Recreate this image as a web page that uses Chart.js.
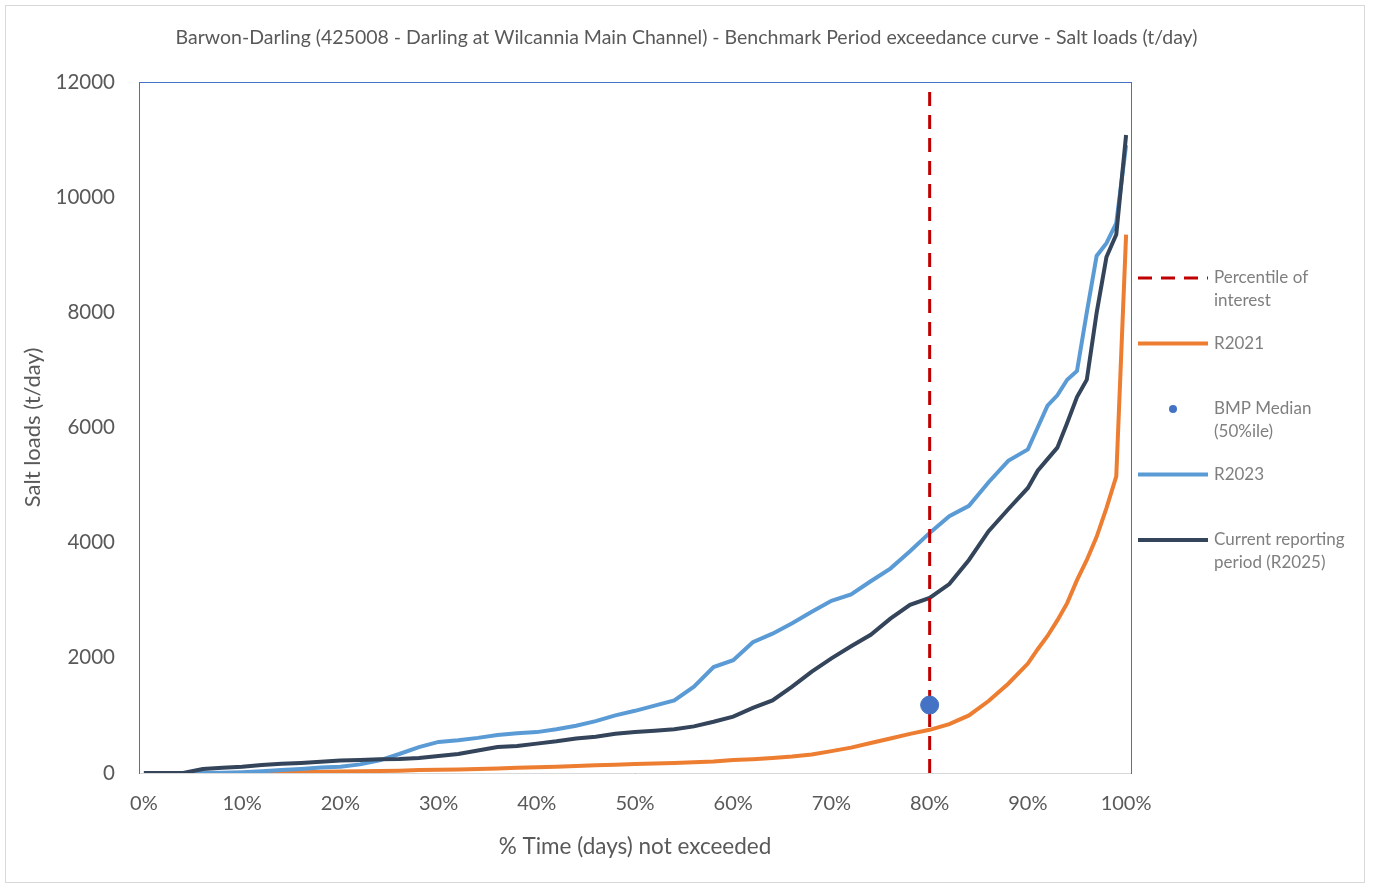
<!DOCTYPE html>
<html>
<head>
<meta charset="utf-8">
<script src="https://cdn.jsdelivr.net/npm/chart.js@4"></script>
<style>
  html, body { margin: 0; padding: 0; background: #ffffff; }
  #wrap { position: relative; width: 1373px; height: 886px; }
</style>
</head>
<body>
<div id="wrap"><canvas id="c" width="1373" height="886"></canvas></div>
<script>
// Exceedance curve: % of days (x) against salt load in t/day (y)
const pctTime = [0, 2, 4, 6, 8, 10, 12, 14, 16, 18, 20, 22, 24, 26, 28, 30, 32, 34, 36, 38,
  40, 42, 44, 46, 48, 50, 52, 54, 56, 58, 60, 62, 64, 66, 68, 70, 72, 74, 76, 78,
  80, 82, 84, 86, 88, 90, 91, 92, 93, 94, 95, 96, 97, 98, 99, 100];

const r2021 = [0, 0, 0, 0, 0, 0, 5, 10, 15, 20, 25, 30, 35, 40, 50, 55, 60, 70, 80, 90,
  100, 110, 120, 135, 145, 155, 165, 175, 185, 200, 225, 240, 260, 285, 320, 380, 440, 520, 600, 680,
  750, 850, 1000, 1250, 1550, 1900, 2150, 2380, 2650, 2950, 3350, 3700, 4100, 4600, 5150, 9350];

const r2023 = [0, 0, 0, 0, 5, 15, 30, 50, 70, 95, 110, 150, 220, 330, 450, 540, 570, 610, 660, 690,
  710, 760, 820, 900, 1000, 1080, 1170, 1260, 1500, 1840, 1960, 2270, 2420, 2600, 2800, 2990, 3100, 3330, 3550, 3850,
  4170, 4460, 4640, 5050, 5420, 5620, 6000, 6380, 6560, 6830, 6980, 8000, 8980, 9200, 9550, 10900];

const r2025 = [0, 0, 0, 70, 90, 110, 140, 160, 175, 195, 215, 225, 240, 245, 260, 295, 330, 390, 450, 470,
  510, 550, 600, 630, 680, 710, 735, 760, 810, 890, 980, 1130, 1260, 1500, 1760, 1990, 2200, 2400, 2680, 2920,
  3040, 3280, 3700, 4200, 4580, 4950, 5250, 5450, 5650, 6080, 6530, 6830, 7990, 8960, 9350, 11080];

const percentileOfInterest = 80;
const bmpMedian = 1180;

const xTicks = [0, 10, 20, 30, 40, 50, 60, 70, 80, 90, 100];
const yTicks = [0, 2000, 4000, 6000, 8000, 10000, 12000];

const legendLines = [
  ['Percentile of', 'interest'],
  ['R2021'],
  ['BMP Median', '(50%ile)'],
  ['R2023'],
  ['Current reporting', 'period (R2025)']
];

const FONT = 'Lato, "Open Sans", sans-serif';
const TEXT = '#595959';

const toPoints = (ys) => ys.map((y, i) => ({ x: pctTime[i], y }));

const legendLabel = (i) => legendLines[i].join(' ');

// Plot frame, outer border and side legend
const framePlugin = {
  id: 'frame',
  beforeDraw(chart) {
    const ctx = chart.ctx;
    ctx.save();
    ctx.strokeStyle = '#d9d9d9';
    ctx.lineWidth = 1;
    ctx.strokeRect(5.5, 5.5, 1359, 877);
    ctx.restore();
  },
  beforeDatasetsDraw(chart) {
    const { ctx, chartArea: a } = chart;
    ctx.save();
    ctx.strokeStyle = '#4472c4';
    ctx.lineWidth = 1;
    ctx.strokeRect(Math.round(a.left) + 0.5, Math.round(a.top) + 0.5,
      Math.round(a.right - a.left), Math.round(a.bottom - a.top));
    ctx.strokeStyle = '#d9d9d9';
    ctx.beginPath();
    ctx.moveTo(a.left + 1, Math.round(a.bottom) + 0.5);
    ctx.lineTo(a.right, Math.round(a.bottom) + 0.5);
    ctx.stroke();
    ctx.restore();
  },
  afterDraw(chart) {
    const ctx = chart.ctx;
    const x0 = 1138, x1 = 1208, tx = 1214, top = 278, step = 65.5;
    ctx.save();
    legendLines.forEach((lines, i) => {
      const ds = chart.data.datasets.find(d => d.label === legendLabel(i));
      const y = top + i * step;
      if (ds.showLine === false) {
        ctx.fillStyle = ds.backgroundColor;
        ctx.beginPath();
        ctx.arc((x0 + x1) / 2, y, 4, 0, Math.PI * 2);
        ctx.fill();
      } else {
        ctx.strokeStyle = ds.borderColor;
        ctx.lineWidth = ds.borderWidth;
        ctx.setLineDash(ds.borderDash || []);
        ctx.beginPath();
        ctx.moveTo(x0, y);
        ctx.lineTo(x1, y);
        ctx.stroke();
        ctx.setLineDash([]);
      }
      ctx.fillStyle = '#7f7f7f';
      ctx.font = '17px ' + FONT;
      ctx.textBaseline = 'middle';
      ctx.textAlign = 'left';
      lines.forEach((t, k) => ctx.fillText(t, tx, y + k * 22.5));
    });
    ctx.restore();
  }
};

new Chart(document.getElementById('c'), {
  type: 'line',
  data: {
    datasets: [
      {
        label: legendLabel(2),
        data: [{ x: percentileOfInterest, y: bmpMedian }],
        showLine: false,
        pointRadius: 9,
        pointBackgroundColor: '#4472c4',
        pointBorderColor: '#4472c4',
        backgroundColor: '#4472c4',
        borderColor: '#4472c4'
      },
      {
        label: legendLabel(0),
        data: [{ x: percentileOfInterest, y: 0 }, { x: percentileOfInterest, y: 11900 }],
        borderColor: '#c00000',
        borderWidth: 3,
        borderDash: [14, 9],
        pointRadius: 0
      },
      {
        label: legendLabel(4),
        data: toPoints(r2025),
        borderColor: '#34445a',
        borderWidth: 4,
        pointRadius: 0
      },
      {
        label: legendLabel(3),
        data: toPoints(r2023),
        borderColor: '#5b9bd5',
        borderWidth: 4,
        pointRadius: 0
      },
      {
        label: legendLabel(1),
        data: toPoints(r2021),
        borderColor: '#ed7d31',
        borderWidth: 4,
        pointRadius: 0
      }
    ]
  },
  options: {
    responsive: false,
    animation: false,
    layout: { padding: 0 },
    plugins: {
      legend: { display: false },
      tooltip: { enabled: false },
      title: {
        display: true,
        text: 'Barwon-Darling (425008 - Darling at Wilcannia Main Channel) - Benchmark Period exceedance curve - Salt loads (t/day)',
        color: TEXT,
        font: { family: FONT, size: 19.5, weight: 'normal' },
        padding: { top: 26, bottom: 32.6 }
      }
    },
    scales: {
      x: {
        type: 'linear',
        min: -0.5,
        max: 100.5,
        afterBuildTicks: (s) => { s.ticks = xTicks.map(v => ({ value: v })); },
        afterFit: (s) => { s.height = 113; },
        grid: { display: false },
        border: { display: false },
        ticks: {
          color: TEXT,
          padding: 11,
          maxRotation: 0,
          font: { family: FONT, size: 20 },
          callback: (v) => v + '%'
        },
        title: {
          display: true,
          text: '% Time (days) not exceeded',
          color: TEXT,
          font: { family: FONT, size: 22.5 },
          padding: { top: 0, bottom: 26 }
        }
      },
      y: {
        min: 0,
        max: 12000,
        afterBuildTicks: (s) => { s.ticks = yTicks.map(v => ({ value: v })); },
        afterFit: (s) => { s.width = 139; },
        grid: { display: false },
        border: { display: false },
        ticks: {
          color: TEXT,
          padding: 16,
          font: { family: FONT, size: 20.5 },
          callback: (v) => String(v)
        },
        title: {
          display: true,
          text: 'Salt loads (t/day)',
          color: TEXT,
          font: { family: FONT, size: 22 },
          padding: { top: 20, bottom: 0 }
        }
      },
      // empty right-hand band that leaves room for the legend
      legendBand: {
        type: 'linear',
        position: 'right',
        display: true,
        afterFit: (s) => { s.width = 242; },
        grid: { display: false },
        border: { display: false },
        ticks: { display: false }
      }
    }
  },
  plugins: [framePlugin]
});
</script>
</body>
</html>
